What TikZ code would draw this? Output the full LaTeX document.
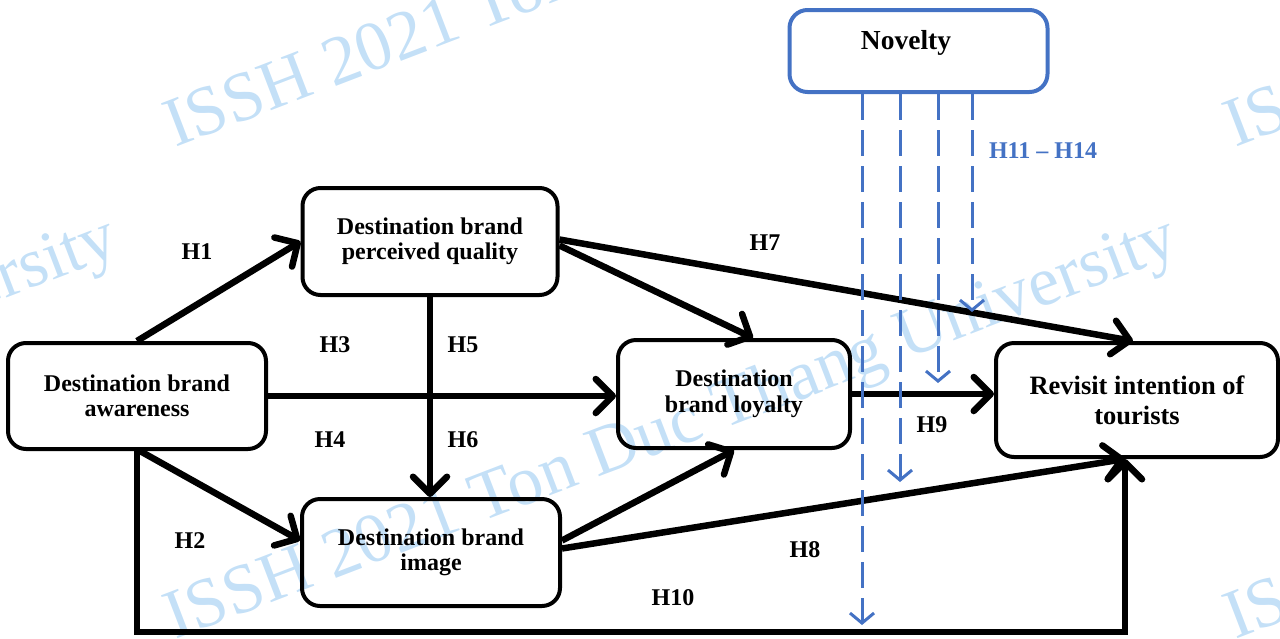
\documentclass[tikz,border=0pt]{standalone}
\usepackage{fontspec}
\setmainfont{Liberation Serif}
\usetikzlibrary{arrows.meta,calc}
\definecolor{novblue}{HTML}{4472C4}
\definecolor{wmblue}{RGB}{196,224,247}

\begin{document}
\begin{tikzpicture}[x=1pt,y=-1pt,
  box/.style={draw=black,line width=4pt,rounded corners=18pt,align=center,
    font=\fontsize{24}{25.5}\selectfont\bfseries,inner sep=0pt},
  arr/.style={line width=6.5pt,-{Straight Barb[length=17pt,width=34pt,round]}},
  mod/.style={novblue,line width=3pt,dash pattern=on 26pt off 10pt,
    -{Straight Barb[length=10pt,width=24pt]}},
  hlab/.style={font=\fontsize{24}{25}\selectfont\bfseries,inner sep=1pt},
  wm/.style={wmblue,font=\fontsize{70}{70}\selectfont,rotate=21,
    anchor=base west,inner sep=0pt}]

\useasboundingbox (0,0) rectangle (1280,638);

% watermark tiles
\begin{scope}
  \clip (0,0) rectangle (1280,638);
  \foreach \wx/\wy [count=\i] in {-885/640,175/640,1235/640,175/148,1235/148}
    \node[wm] (wm\i) at (\wx,\wy) {ISSH 2021 Ton Duc Thang University};
\end{scope}

% constructs
\node[box,minimum width=258pt,minimum height=106pt] (aw) at (137,396)
  {Destination brand\\awareness};
\node[box,minimum width=255pt,minimum height=107pt] (pq) at (430,241.5)
  {Destination brand\\perceived quality};
\node[box,minimum width=232pt,minimum height=108pt] (lo) at (734,394)
  {Destination\\brand loyalty};
\node[box,minimum width=258pt,minimum height=107pt] (im) at (431,552.5)
  {Destination brand\\image};
\node[box,minimum width=282pt,minimum height=114pt,
  font=\fontsize{26.5}{30}\selectfont\bfseries] (rv) at (1137,400)
  {Revisit intention of\\tourists};
\node[draw=novblue,line width=4pt,rounded corners=18pt,
  minimum width=258pt,minimum height=82pt] (nov) at (918.5,51) {};
\node[font=\fontsize{27.5}{30}\selectfont\bfseries] (novtxt) at (906,43) {Novelty};

% helper points
\coordinate (base) at (0,632);
\coordinate (rvin) at ([xshift=-12pt]rv.south);

% paths between constructs
\draw[arr] (aw.north) -- (pq.west);
\draw[arr] ([xshift=3pt]aw.south) -- ([yshift=12pt]im.west);
\draw[arr] (aw.east) -- (aw.east -| lo.west);
\draw[arr] (pq.south) -- (pq.south |- im.north);
\draw[arr] ([yshift=-4pt]pq.east) -- ([xshift=19pt]lo.north);
\draw[arr] ([yshift=2pt]pq.east) -- ([xshift=-4pt]rv.north);
\draw[arr] ([yshift=12pt]im.east) -- (lo.south);
\draw[arr] ([yshift=4pt]im.east) -- (rvin);
\draw[arr] (lo.east) -- (lo.east -| rv.west);
\draw[arr] (aw.south) |- (rvin |- base) -- (rvin);

% moderating paths from Novelty
\coordinate (m1) at (862,625);
\coordinate (m2) at (900,482);
\coordinate (m3) at (938,383);
\coordinate (m4) at (972,312);
\draw[mod] ([xshift=-56.5pt]nov.south) -- (m1);
\draw[mod] ([xshift=-18.5pt]nov.south) -- (m2);
\draw[mod] ([xshift=19.5pt]nov.south) -- (m3);
\draw[mod] ([xshift=53.5pt]nov.south) -- (m4);

% hypothesis labels
\node[hlab] (h1) at (197,252) {H1};
\node[hlab] (h2) at (190,541) {H2};
\node[hlab] (h3) at (335,345) {H3};
\node[hlab] (h4) at (330,440) {H4};
\node[hlab] (h5) at (463,345) {H5};
\node[hlab] (h6) at (463,440) {H6};
\node[hlab] (h7) at (765,243) {H7};
\node[hlab] (h8) at (805,550) {H8};
\node[hlab] (h9) at (932,425) {H9};
\node[hlab] (h10) at (673,598) {H10};
\node[hlab,text=novblue] (h1114) at (1043,151) {H11 – H14};
\end{tikzpicture}
\end{document}
